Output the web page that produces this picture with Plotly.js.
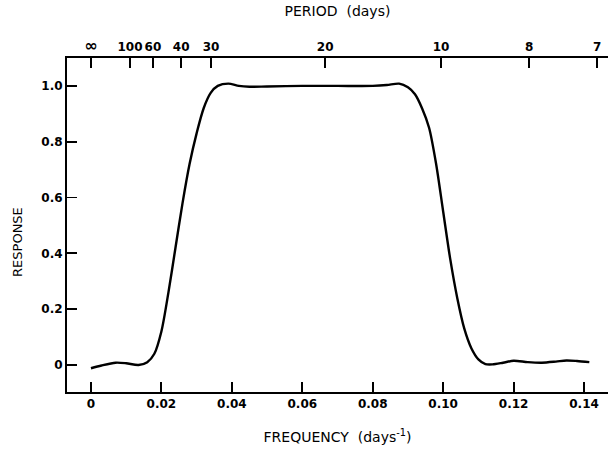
<!DOCTYPE html>
<html>
<head>
<meta charset="utf-8">
<script src="https://cdn.plot.ly/plotly-3.0.1.min.js"></script>
<style>html,body{margin:0;padding:0;background:#fff;}#chart{width:608px;height:449px;}</style>
</head>
<body>
<div id="chart"></div>
<script>
// Filter response vs frequency (days^-1)
const frequency = [0, 0.003, 0.007, 0.010, 0.0135, 0.016, 0.018, 0.020, 0.022, 0.024, 0.026, 0.028, 0.030, 0.032, 0.034, 0.036, 0.039, 0.042, 0.045, 0.050, 0.060, 0.070, 0.080, 0.084, 0.0875, 0.090, 0.092, 0.094, 0.096, 0.098, 0.100, 0.102, 0.104, 0.106, 0.108, 0.110, 0.112, 0.114, 0.117, 0.120, 0.124, 0.128, 0.132, 0.135, 0.138, 0.1415];
const response  = [-0.012, -0.002, 0.008, 0.006, 0.0, 0.01, 0.04, 0.12, 0.26, 0.42, 0.58, 0.72, 0.83, 0.92, 0.975, 1.0, 1.008, 1.0, 0.997, 0.998, 1.0, 1.0, 1.0, 1.003, 1.008, 0.995, 0.97, 0.92, 0.85, 0.72, 0.55, 0.38, 0.24, 0.13, 0.06, 0.02, 0.003, 0.002, 0.008, 0.015, 0.01, 0.008, 0.012, 0.016, 0.014, 0.01];

// Bottom axis ticks
const freqTickVals = [0, 0.02, 0.04, 0.06, 0.08, 0.10, 0.12, 0.14];
const freqTickText = ['0', '0.02', '0.04', '0.06', '0.08', '0.10', '0.12', '0.14'];
// Top axis (period) ticks, at the frequency positions where they are drawn
const periodTickFreq = [0, 0.0111, 0.0176, 0.0256, 0.0341, 0.0665, 0.0994, 0.1244, 0.1437];
const periodTickText = ['<span style="font-size:16px">∞</span>', '100', '60', '40', '30', '20', '10', '8', '7'];
// Left axis ticks
const respTickVals = [0, 0.2, 0.4, 0.6, 0.8, 1.0];
const respTickText = ['0', '0.2', '0.4', '0.6', '0.8', '1.0'];

const xRange = [-0.0068, 0.1468];
const yRange = [-0.097, 1.10];
const tickFont = {family: 'DejaVu Sans', size: 12, color: '#000', weight: 'bold'};
const titleFont = {family: 'DejaVu Sans', size: 14, color: '#000'};

const traces = [
  {x: frequency, y: response, type: 'scatter', mode: 'lines',
   line: {color: '#000', width: 2.4, shape: 'spline', smoothing: 0.8},
   hoverinfo: 'skip', showlegend: false},
  {x: [xRange[0]], y: [yRange[0]], xaxis: 'x2', yaxis: 'y', type: 'scatter', mode: 'markers',
   marker: {opacity: 0}, hoverinfo: 'skip', showlegend: false}
];

const layout = {
  width: 608, height: 449,
  margin: {l: 67, r: 0, t: 58, b: 57},
  paper_bgcolor: '#fff', plot_bgcolor: '#fff',
  showlegend: false,
  xaxis: {
    range: xRange, tickvals: freqTickVals, ticktext: freqTickText,
    ticks: 'inside', ticklen: 10, tickwidth: 1.8, tickcolor: '#000',
    showline: true, linecolor: '#000', linewidth: 2, showgrid: false, zeroline: false,
    tickfont: tickFont,
    title: {text: 'FREQUENCY\u00a0\u00a0(days<sup>-1</sup>)', font: titleFont, standoff: 22}
  },
  xaxis2: {
    overlaying: 'x', side: 'top', range: xRange,
    tickvals: periodTickFreq, ticktext: periodTickText,
    ticks: 'inside', ticklen: 10, tickwidth: 1.8, tickcolor: '#000',
    showline: true, linecolor: '#000', linewidth: 2, showgrid: false, zeroline: false,
    tickfont: tickFont,
    title: {text: 'PERIOD\u00a0\u00a0(days)', font: titleFont, standoff: 16}
  },
  yaxis: {
    range: yRange, tickvals: respTickVals, ticktext: respTickText,
    ticks: 'inside', ticklen: 10, tickwidth: 1.8, tickcolor: '#000',
    showline: true, linecolor: '#000', linewidth: 2, showgrid: false, zeroline: false,
    tickfont: tickFont
  },
  annotations: [
    {text: 'RESPONSE', xref: 'paper', yref: 'paper', x: -0.092, y: 0.45, xanchor: 'center', yanchor: 'middle',
     textangle: -90, showarrow: false, font: {family: 'DejaVu Sans', size: 13, color: '#000'}}
  ]
};

Plotly.newPlot('chart', traces, layout, {staticPlot: true, displayModeBar: false});
</script>
</body>
</html>
